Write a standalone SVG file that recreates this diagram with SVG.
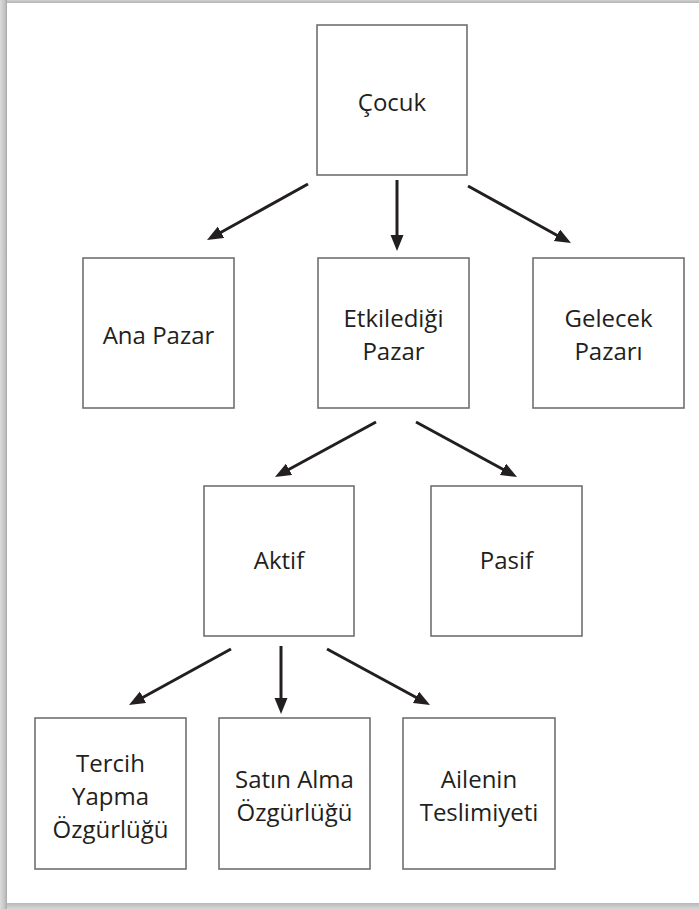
<svg xmlns="http://www.w3.org/2000/svg" width="699" height="909" viewBox="0 0 699 909">
  <defs>
    <style>
      .box { fill: #ffffff; stroke: #707070; stroke-width: 1.6; }
      .lbl { font-family: "Open Sans", "Noto Sans", "DejaVu Sans", sans-serif; font-size: 24px; fill: #231f20; text-anchor: middle; }
      .arrow { fill: none; stroke: #231f20; stroke-width: 3; marker-end: url(#head); }
    </style>
    <marker id="head" markerUnits="userSpaceOnUse" markerWidth="17" markerHeight="14" refX="3" refY="6.5" orient="auto">
      <path d="M0,0 L16,6.5 L0,13 z" fill="#231f20"/>
    </marker>
    <linearGradient id="edgeL" x1="0" y1="0" x2="1" y2="0">
      <stop offset="0" stop-color="#dcdcdc"/>
      <stop offset="0.7" stop-color="#c2c2c2"/>
      <stop offset="1" stop-color="#a8a8a8"/>
    </linearGradient>
    <linearGradient id="edgeT" x1="0" y1="0" x2="0" y2="1">
      <stop offset="0" stop-color="#d0d0d0"/>
      <stop offset="1" stop-color="#b4b4b4"/>
    </linearGradient>
    <linearGradient id="edgeB" x1="0" y1="0" x2="0" y2="1">
      <stop offset="0" stop-color="#b8b8b8"/>
      <stop offset="1" stop-color="#d8d8d8"/>
    </linearGradient>
  </defs>

  <!-- page sheet with shaded frame -->
  <rect x="0" y="0" width="699" height="909" fill="#ffffff"/>
  <rect x="0" y="0" width="699" height="3" fill="url(#edgeT)"/>
  <rect x="0" y="903" width="699" height="6" fill="url(#edgeB)"/>
  <rect x="0" y="0" width="7" height="909" fill="url(#edgeL)"/>

  <!-- level 1 -->
  <g id="cocuk">
    <rect class="box" x="317" y="25" width="150" height="150"/>
    <text class="lbl" x="392" y="111">Çocuk</text>
  </g>

  <!-- level 2 -->
  <g id="ana-pazar">
    <rect class="box" x="83" y="258" width="151" height="150"/>
    <text class="lbl" x="158.5" y="344">Ana Pazar</text>
  </g>
  <g id="etkiledigi-pazar">
    <rect class="box" x="318" y="258" width="151" height="150"/>
    <text class="lbl" x="393.5" y="327">Etkilediği</text>
    <text class="lbl" x="393.5" y="360">Pazar</text>
  </g>
  <g id="gelecek-pazari">
    <rect class="box" x="533" y="258" width="151" height="150"/>
    <text class="lbl" x="608.5" y="327">Gelecek</text>
    <text class="lbl" x="608.5" y="360">Pazarı</text>
  </g>

  <!-- level 3 -->
  <g id="aktif">
    <rect class="box" x="204" y="486" width="150" height="150"/>
    <text class="lbl" x="279" y="569">Aktif</text>
  </g>
  <g id="pasif">
    <rect class="box" x="431" y="486" width="151" height="150"/>
    <text class="lbl" x="506.5" y="569">Pasif</text>
  </g>

  <!-- level 4 -->
  <g id="tercih-yapma">
    <rect class="box" x="35" y="718" width="151" height="151"/>
    <text class="lbl" x="110.5" y="772">Tercih</text>
    <text class="lbl" x="110.5" y="805">Yapma</text>
    <text class="lbl" x="110.5" y="838">Özgürlüğü</text>
  </g>
  <g id="satin-alma">
    <rect class="box" x="219" y="718" width="151" height="151"/>
    <text class="lbl" x="294.5" y="788">Satın Alma</text>
    <text class="lbl" x="294.5" y="821">Özgürlüğü</text>
  </g>
  <g id="ailenin-teslimiyeti">
    <rect class="box" x="403" y="718" width="152" height="151"/>
    <text class="lbl" x="479" y="788">Ailenin</text>
    <text class="lbl" x="479" y="821">Teslimiyeti</text>
  </g>

  <!-- connectors -->
  <g id="connectors">
    <path class="arrow" d="M308,184 L218.4,233.7"/>
    <path class="arrow" d="M397,180 L397,238"/>
    <path class="arrow" d="M468,186 L559.6,236.7"/>
    <path class="arrow" d="M376,422 L286.4,470.8"/>
    <path class="arrow" d="M416,422 L505.6,470.8"/>
    <path class="arrow" d="M231,649 L140.4,698.7"/>
    <path class="arrow" d="M281,646 L281,701"/>
    <path class="arrow" d="M327,649 L418.6,698.8"/>
  </g>
</svg>
